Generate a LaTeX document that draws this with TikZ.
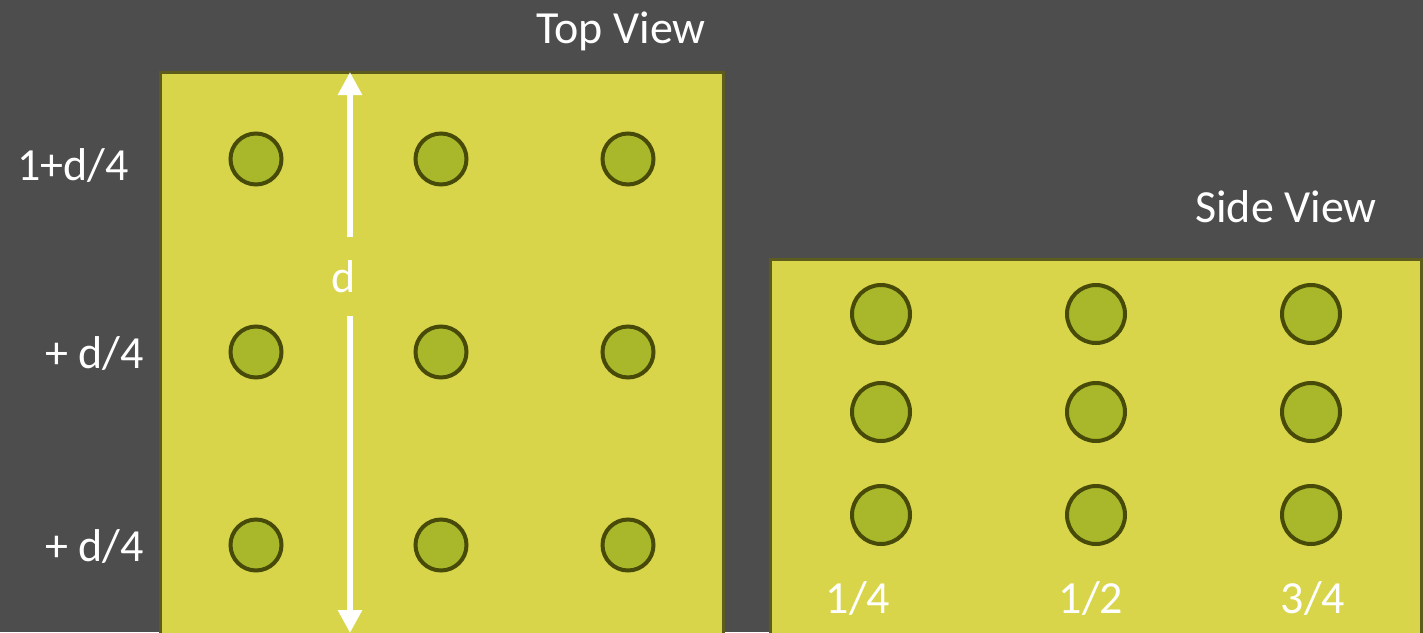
\documentclass[tikz,border=0pt]{standalone}
\usepackage{fontspec}
\setmainfont{Carlito}
\usetikzlibrary{arrows.meta}
\definecolor{bg}{HTML}{4D4D4D}
\definecolor{panel}{HTML}{D9D54A}
\definecolor{panelborder}{HTML}{5E5C1C}
\definecolor{dotfill}{HTML}{A8B82A}
\definecolor{dotline}{HTML}{474A08}
\tikzset{
  panelbox/.style={fill=panel,draw=panelborder,line width=3pt},
  dot/.style={circle,fill=dotfill,draw=dotline,line width=4pt,inner sep=0pt,minimum size=#1},
  lbl/.style={text=white,inner sep=0pt,font=\fontsize{46}{50}\selectfont},
  arr/.style={draw=white,line width=6pt,-{Triangle[width=23pt,length=23pt]}}
}
\begin{document}
\begin{tikzpicture}[x=1pt,y=-1pt]
\clip (0,0) rectangle (1423,632);
\fill[bg] (0,0) rectangle (1423,632);
% panels
\draw[panelbox] (160,72) rectangle (723,660);
\draw[panelbox] (770,259) rectangle (1421,660);
% titles
\node[lbl,anchor=base] (tv) at (621,43) {Top View};
\node[lbl,anchor=base] (sv) at (1286,222) {Side View};
% row labels
\node[lbl,anchor=base west] (r1) at (17,180) {1+d/4};
\node[lbl,anchor=base west] (r2) at (45,368) {+ d/4};
\node[lbl,anchor=base west] (r3) at (45,561) {+ d/4};
% top view dots
\foreach \i/\x in {1/256,2/441,3/628}{
  \foreach \j/\y in {1/159,2/352,3/545}{
    \node[dot=51pt] (t\i\j) at (\x,\y) {};
  }
}
% side view dots
\foreach \i/\x in {1/881,2/1096,3/1311}{
  \foreach \j/\y in {1/314,2/412,3/515}{
    \node[dot=58pt] (s\i\j) at (\x,\y) {};
  }
}
% fractions
\node[lbl,anchor=base] (f1) at (858,613) {1/4};
\node[lbl,anchor=base] (f2) at (1091,613) {1/2};
\node[lbl,anchor=base] (f3) at (1313,613) {3/4};
% dimension arrow
\coordinate (dtop) at (350,72);
\coordinate (dbot) at (350,633);
\node[lbl,minimum height=79pt,minimum width=12pt] (dlab) at (350,276.5) {\hspace*{-12pt}d};
\draw[arr] (dlab.north) -- (dtop);
\draw[arr] (dlab.south) -- (dbot);
\end{tikzpicture}
\end{document}
